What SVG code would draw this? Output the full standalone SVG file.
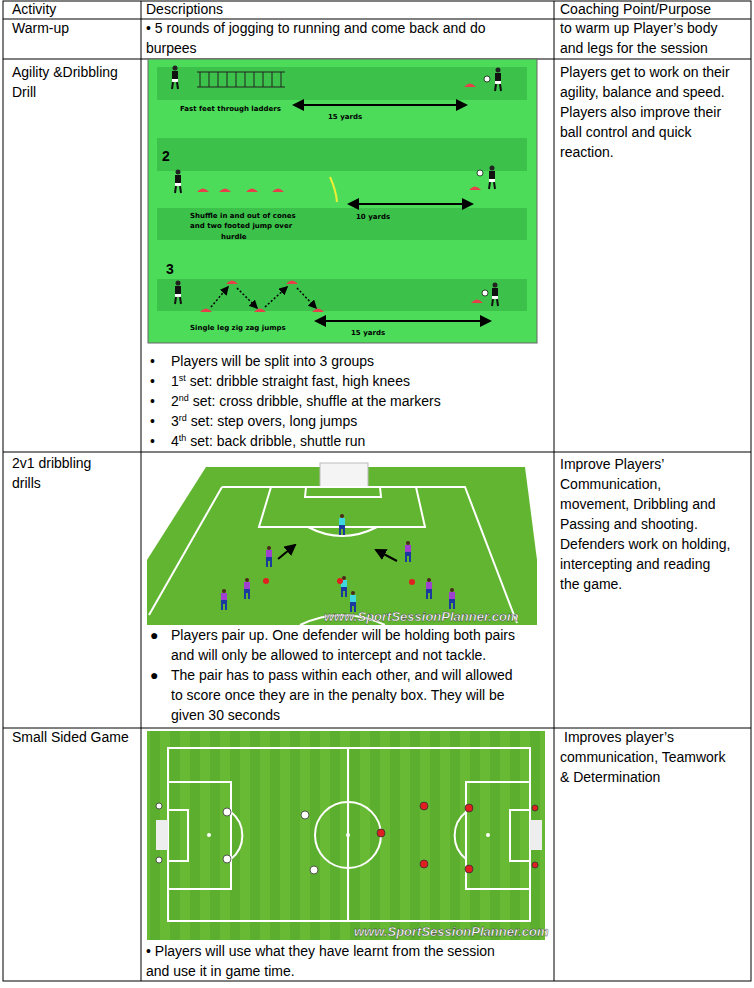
<svg xmlns="http://www.w3.org/2000/svg" width="754" height="988" viewBox="0 0 754 988">
<style>
text{font-family:"Liberation Sans",Arial,sans-serif;font-size:14px;fill:#000}
.b{font-family:"DejaVu Sans",sans-serif;font-weight:bold;font-size:7px}
.w{stroke:#fff;stroke-width:2;fill:none}
.wm{font-family:"Liberation Sans",sans-serif;font-style:italic;font-weight:bold;font-size:13px;fill:#fff;stroke:#333;stroke-width:0.4}
</style>
<defs>
<marker id="ah" markerWidth="6" markerHeight="6" refX="5" refY="3" orient="auto-start-reverse"><path d="M0,0L6,3L0,6z" fill="#000"/></marker>
<pattern id="grass" width="40" height="40" patternUnits="userSpaceOnUse"><rect width="40" height="40" fill="#5cae2e"/><rect width="20" height="40" fill="#66b833"/></pattern>
<pattern id="grass2" width="20" height="40" patternUnits="userSpaceOnUse"><rect width="20" height="40" fill="#5cae2e"/><rect width="10" height="40" fill="#68ba35"/></pattern>
<g id="pl"><circle cx="0" cy="-12" r="2.5" fill="#222"/><rect x="-3" y="-9" width="6" height="8" fill="#111"/><rect x="-3" y="-1" width="6" height="3" fill="#fff"/><path d="M-2,2L-3,9M2,2L3,9" stroke="#111" stroke-width="2"/></g>
<g id="pp"><circle cx="0" cy="-12" r="2" fill="#4a2a1a"/><rect x="-3" y="-10" width="6" height="7" fill="#a040d0"/><rect x="-3" y="-3" width="6" height="4" fill="#1a3aa0"/><path d="M-2,1L-2,7M2,1L2,7" stroke="#1a3aa0" stroke-width="2"/></g>
<g id="pc"><circle cx="0" cy="-12" r="2" fill="#4a2a1a"/><rect x="-3" y="-10" width="6" height="7" fill="#40d8e0"/><rect x="-3" y="-3" width="6" height="4" fill="#1a3aa0"/><path d="M-2,1L-2,7M2,1L2,7" stroke="#1a3aa0" stroke-width="2"/></g>
<path id="cone" d="M-6,0Q0,-7 6,0z" fill="#e8404a"/>
</defs>

<g id="table" fill="none" stroke="#000" stroke-width="1">
<rect x="3" y="1" width="748" height="980"/>
<line x1="141" y1="1" x2="141" y2="981"/><line x1="554" y1="1" x2="554" y2="981"/>
<line x1="3" y1="19" x2="751" y2="19"/><line x1="3" y1="59" x2="751" y2="59"/>
<line x1="3" y1="452" x2="751" y2="452"/><line x1="3" y1="728" x2="751" y2="728"/>
</g>

<g id="header"><text x="12" y="14">Activity</text><text x="146" y="14">Descriptions</text><text x="560" y="14">Coaching Point/Purpose</text></g>

<g id="warmup">
<text x="12" y="33">Warm-up</text>
<text x="146" y="33">• 5 rounds of jogging to running and come back and do</text>
<text x="146" y="53">burpees</text>
<text x="560" y="33">to warm up Player’s body</text>
<text x="560" y="53">and legs for the session</text>
</g>

<g id="agility">
<text x="12" y="77">Agility &amp;Dribbling</text><text x="12" y="97">Drill</text>
<text x="560" y="77">Players get to work on their</text>
<text x="560" y="97">agility, balance and speed.</text>
<text x="560" y="117">Players also improve their</text>
<text x="560" y="137">ball control and quick</text>
<text x="560" y="157">reaction.</text>
<rect x="148" y="59" width="389" height="284" fill="#4cdc5a" stroke="#666"/>
<rect x="157" y="67" width="370" height="33" fill="#3cc24a"/>
<rect x="157" y="138" width="370" height="33" fill="#3cc24a"/>
<rect x="157" y="208" width="370" height="32" fill="#3cc24a"/>
<rect x="157" y="279" width="370" height="32" fill="#3cc24a"/>
<g stroke="#222" stroke-width="1"><line x1="197" y1="72" x2="285" y2="72"/><line x1="197" y1="87" x2="285" y2="87"/>
<path d="M200,72v15M209,72v15M218,72v15M227,72v15M236,72v15M245,72v15M254,72v15M263,72v15M272,72v15M281,72v15"/></g>
<use href="#pl" x="175" y="80"/><use href="#pl" x="498" y="82"/><circle cx="487" cy="79" r="3" fill="#fff" stroke="#000" stroke-width="0.7"/><use href="#cone" x="470" y="87"/>
<line x1="294" y1="105" x2="466" y2="105" stroke="#000" stroke-width="2" marker-start="url(#ah)" marker-end="url(#ah)"/>
<text class="b" x="180" y="111">Fast feet through ladders</text><text class="b" x="328" y="119">15 yards</text>
<text x="162" y="161" style="font-weight:bold;font-size:14px">2</text>
<use href="#pl" x="178" y="184"/><use href="#pl" x="492" y="180"/><circle cx="480" cy="173" r="3" fill="#fff" stroke="#000" stroke-width="0.7"/>
<use href="#cone" x="203" y="192"/><use href="#cone" x="225" y="192"/><use href="#cone" x="252" y="192"/><use href="#cone" x="278" y="192"/><use href="#cone" x="475" y="190"/>
<path d="M330,177Q336,190 337,202" stroke="#ee3" stroke-width="2" fill="none"/>
<line x1="349" y1="204" x2="472" y2="204" stroke="#000" stroke-width="2" marker-start="url(#ah)" marker-end="url(#ah)"/>
<text class="b" x="190" y="218">Shuffle in and out of cones</text><text class="b" x="190" y="228">and two footed jump over</text><text class="b" x="221" y="239">hurdle</text><text class="b" x="356" y="219">10 yards</text>
<text x="166" y="274" style="font-weight:bold;font-size:14px">3</text>
<use href="#pl" x="178" y="295"/><use href="#pl" x="495" y="297"/><circle cx="485" cy="293" r="3" fill="#fff" stroke="#000" stroke-width="0.7"/>
<use href="#cone" x="206" y="312"/><use href="#cone" x="232" y="284"/><use href="#cone" x="260" y="312"/><use href="#cone" x="292" y="284"/><use href="#cone" x="318" y="312"/><use href="#cone" x="477" y="303"/>
<g stroke="#000" stroke-width="1.5" stroke-dasharray="2,2" fill="none"><path d="M211,307L228,287" marker-end="url(#ah)"/><path d="M237,288L257,308" marker-end="url(#ah)"/><path d="M265,307L287,287" marker-end="url(#ah)"/><path d="M297,288L316,308" marker-end="url(#ah)"/></g>
<line x1="316" y1="321" x2="490" y2="321" stroke="#000" stroke-width="2" marker-start="url(#ah)" marker-end="url(#ah)"/>
<text class="b" x="190" y="330">Single leg zig zag jumps</text><text class="b" x="351" y="335">15 yards</text>
<text x="150" y="366">•</text><text x="171" y="366">Players will be split into 3 groups</text>
<text x="150" y="386">•</text><text x="171" y="386">1<tspan dy="-5" font-size="9">st</tspan><tspan dy="5"> set: dribble straight fast, high knees</tspan></text>
<text x="150" y="406">•</text><text x="171" y="406">2<tspan dy="-5" font-size="9">nd</tspan><tspan dy="5"> set: cross dribble, shuffle at the markers</tspan></text>
<text x="150" y="426">•</text><text x="171" y="426">3<tspan dy="-5" font-size="9">rd</tspan><tspan dy="5"> set: step overs, long jumps</tspan></text>
<text x="150" y="446">•</text><text x="171" y="446">4<tspan dy="-5" font-size="9">th</tspan><tspan dy="5"> set: back dribble, shuttle run</tspan></text>
</g>

<g id="twovone">
<text x="12" y="468">2v1 dribbling</text><text x="12" y="488">drills</text>
<text x="560" y="469">Improve Players’</text>
<text x="560" y="489">Communication,</text>
<text x="560" y="509">movement, Dribbling and</text>
<text x="560" y="529">Passing and shooting.</text>
<text x="560" y="549">Defenders work on holding,</text>
<text x="560" y="569">intercepting and reading</text>
<text x="560" y="589">the game.</text>
<rect x="147" y="456" width="390" height="169" fill="#fff"/>
<path d="M206,467L525,467L537,560L537,625L147,625L147,560z" fill="#62b530"/>
<rect x="320" y="463" width="48" height="24" fill="#f4f4f4" stroke="#bbb"/>
<g class="w"><path d="M222,487L465,487L517,623M222,487L149,615"/><path d="M271,487L259,527L425,527L416,487"/><path d="M306,487L305,497L381,497L380,487"/>
<path d="M308,527Q342,545 377,527"/><path d="M300,625Q342,605 385,625"/></g>
<use href="#pc" x="342" y="528"/>
<use href="#pp" x="269" y="560"/><use href="#pp" x="408" y="555"/><use href="#pp" x="247" y="592"/><use href="#pp" x="224" y="603"/><use href="#pp" x="429" y="592"/><use href="#pp" x="452" y="602"/>
<use href="#pc" x="344" y="590"/><use href="#pc" x="353" y="605"/>
<circle cx="266" cy="581" r="3" fill="#e02020"/><circle cx="412" cy="582" r="3" fill="#e02020"/><circle cx="340" cy="581" r="3" fill="#e02020"/>
<line x1="278" y1="559" x2="295" y2="545" stroke="#000" stroke-width="2" marker-end="url(#ah)"/>
<line x1="397" y1="561" x2="376" y2="550" stroke="#000" stroke-width="2" marker-end="url(#ah)"/>
<text class="wm" x="324" y="621">www.SportSessionPlanner.com</text>
<text x="150" y="640">●</text><text x="171" y="640">Players pair up. One defender will be holding both pairs</text>
<text x="171" y="660">and will only be allowed to intercept and not tackle.</text>
<text x="150" y="680">●</text><text x="171" y="680">The pair has to pass within each other, and will allowed</text>
<text x="171" y="700">to score once they are in the penalty box. They will be</text>
<text x="171" y="720">given 30 seconds</text>
</g>

<g id="smallsided">
<text x="12" y="742">Small Sided Game</text>
<text x="564" y="742">Improves player’s</text>
<text x="560" y="762">communication, Teamwork</text>
<text x="560" y="782">&amp; Determination</text>
<rect x="147" y="731" width="398" height="209" fill="url(#grass2)"/>
<g class="w"><rect x="168" y="748" width="362" height="173"/><line x1="348" y1="748" x2="348" y2="921"/><circle cx="348" cy="835" r="33"/>
<rect x="168" y="782" width="63" height="107"/><rect x="168" y="810" width="20" height="51"/><path d="M231,812A30,30 0 0 1 231,859"/>
<rect x="466" y="782" width="64" height="107"/><rect x="510" y="810" width="20" height="51"/><path d="M466,812A30,30 0 0 0 466,859"/></g>
<rect x="156" y="820" width="12" height="30" fill="#eee"/><rect x="530" y="820" width="12" height="30" fill="#eee"/>
<circle cx="209" cy="835" r="2" fill="#fff"/><circle cx="488" cy="835" r="2" fill="#fff"/><circle cx="348" cy="835" r="2" fill="#fff"/>
<g fill="#fff" stroke="#333" stroke-width="0.8"><circle cx="227" cy="812" r="4"/><circle cx="227" cy="859" r="4"/><circle cx="305" cy="815" r="4"/><circle cx="314" cy="870" r="4"/><circle cx="159" cy="806" r="3"/><circle cx="159" cy="860" r="3"/></g>
<g fill="#e02020" stroke="#333" stroke-width="0.8"><circle cx="424" cy="806" r="4"/><circle cx="424" cy="864" r="4"/><circle cx="381" cy="833" r="4"/><circle cx="469" cy="808" r="4"/><circle cx="469" cy="869" r="4"/><circle cx="535" cy="808" r="3"/><circle cx="535" cy="865" r="3"/></g>
<text class="wm" x="354" y="936">www.SportSessionPlanner.com</text>
<text x="146" y="956">• Players will use what they have learnt from the session</text>
<text x="146" y="976">and use it in game time.</text>
</g>
</svg>
